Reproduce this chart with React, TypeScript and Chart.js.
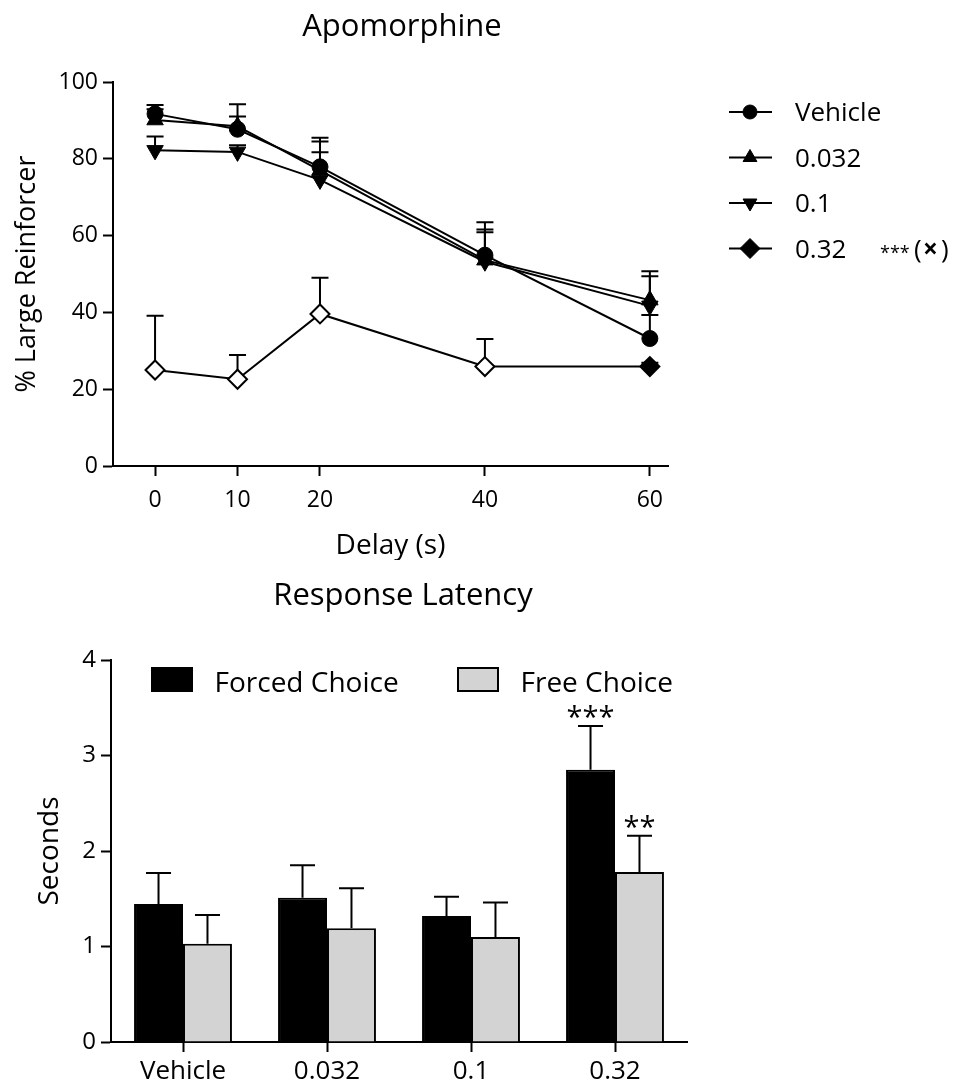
import React, { useEffect, useRef } from "react";
import { Chart, registerables } from "chart.js";

Chart.register(...registerables);

const FONT = "'Open Sans', sans-serif";

// ---------- Top chart data (Apomorphine) ----------
const delays = [0, 10, 20, 40, 60];
const topTicksY = [0, 20, 40, 60, 80, 100];
const seriesNames = ["Vehicle", "0.032", "0.1", "0.32"];
const vehicleMean = [91.7, 87.7, 77.9, 54.9, 33.2];
const vehicleSem = [2.3, 3.3, 7.6, 8.6, 6.1];
const dose0032Mean = [90.1, 88.5, 77.0, 53.6, 43.2];
const dose0032Sem = [2.8, 5.7, 7.5, 8.0, 7.5];
const dose01Mean = [82.2, 81.8, 74.5, 53.2, 41.7];
const dose01Sem = [3.6, 1.7, 7.2, 7.7, 7.7];
const dose032Mean = [25.0, 22.6, 39.6, 25.9, 25.9];
const dose032Sem = [14.1, 6.3, 9.4, 7.2, 1.0];
const dose032Filled = [false, false, false, false, true];

// ---------- Bottom chart data (Response Latency) ----------
const latencyGroups = ["Vehicle", "0.032", "0.1", "0.32"];
const latencyTicksY = [0, 1, 2, 3, 4];
const forcedMean = [1.445, 1.51, 1.32, 2.85];
const forcedSem = [0.325, 0.34, 0.2, 0.46];
const freeMean = [1.03, 1.19, 1.1, 1.78];
const freeSem = [0.3, 0.42, 0.36, 0.38];
const forcedStars = ["", "", "", "***"];
const freeStars = ["", "", "", "**"];
const latencyLegend = ["Forced Choice", "Free Choice"];

function drawMarker(ctx: CanvasRenderingContext2D, style: string, x: number, y: number, r: number, fill: string, lw: number) {
  ctx.save();
  ctx.beginPath();
  if (style === "circle") {
    ctx.arc(x, y, r, 0, Math.PI * 2);
  } else if (style === "triUp" || style === "triDown") {
    const s = style === "triUp" ? 1 : -1;
    const w = r * Math.sqrt(3) / 2;
    ctx.moveTo(x, y - s * r);
    ctx.lineTo(x + w, y + s * r / 2);
    ctx.lineTo(x - w, y + s * r / 2);
    ctx.closePath();
  } else {
    ctx.moveTo(x, y - r);
    ctx.lineTo(x + r, y);
    ctx.lineTo(x, y + r);
    ctx.lineTo(x - r, y);
    ctx.closePath();
  }
  ctx.fillStyle = fill;
  ctx.fill();
  ctx.lineWidth = lw;
  ctx.strokeStyle = "#000";
  ctx.stroke();
  ctx.restore();
}

const axisGrid = {
  display: true,
  drawOnChartArea: false,
  drawTicks: true,
  tickLength: 10,
  tickWidth: 2,
  tickColor: "#000",
  color: "#000",
};
const axisBorder = { display: true, color: "#000", width: 2 };

export default function App() {
  const topRef = useRef<HTMLCanvasElement | null>(null);
  const botRef = useRef<HTMLCanvasElement | null>(null);

  useEffect(() => {
    Chart.defaults.font.family = FONT;
    Chart.defaults.color = "#000";

    const topErrorPlugin = {
      id: "topErrors",
      beforeDatasetsDraw(chart: any) {
        const ctx = chart.ctx;
        const xs = chart.scales.x;
        const ys = chart.scales.y;
        ctx.save();
        ctx.strokeStyle = "#000";
        ctx.lineWidth = 2;
        chart.data.datasets.forEach((ds: any) => {
          ds.data.forEach((p: any, i: number) => {
            const x = xs.getPixelForValue(p.x);
            const y0 = ys.getPixelForValue(p.y);
            const y1 = ys.getPixelForValue(p.y + ds.sem[i]);
            ctx.beginPath();
            ctx.moveTo(x, y0);
            ctx.lineTo(x, y1);
            ctx.moveTo(x - 8.5, y1);
            ctx.lineTo(x + 8.5, y1);
            ctx.stroke();
          });
        });
        ctx.restore();
      },
    };

    const topDecorPlugin = {
      id: "topDecor",
      afterDraw(chart: any) {
        const ctx = chart.ctx;
        ctx.save();
        ctx.fillStyle = "#000";
        ctx.textAlign = "center";
        ctx.textBaseline = "alphabetic";
        ctx.font = `31px ${FONT}`;
        ctx.fillText("Apomorphine", 402, 36);
        // legend
        const styles = ["circle", "triUp", "triDown", "diamond"];
        const radii = [7, 8, 8, 10];
        ctx.textAlign = "left";
        seriesNames.forEach((name, i) => {
          const base = 121 + i * 45.5;
          const my = base - 9;
          ctx.strokeStyle = "#000";
          ctx.lineWidth = 2;
          ctx.beginPath();
          ctx.moveTo(729, my);
          ctx.lineTo(772, my);
          ctx.stroke();
          drawMarker(ctx, styles[i], 750, my, radii[i], "#000", 1);
          ctx.fillStyle = "#000";
          ctx.font = `26px ${FONT}`;
          ctx.fillText(name, 795, base);
          if (i === 3) {
            ctx.font = `18px ${FONT}`;
            ctx.fillText("***", 880, base + 1);
            ctx.font = `26px ${FONT}`;
            ctx.fillText("(", 914, base);
            ctx.font = `bold 26px ${FONT}`;
            ctx.fillText("×", 923, base);
            ctx.font = `26px ${FONT}`;
            ctx.fillText(")", 941, base);
          }
        });
        ctx.restore();
      },
    };

    const mk = (label: string, mean: number[], sem: number[], extra: any) => ({
      label,
      data: delays.map((x, i) => ({ x, y: mean[i] })),
      sem,
      showLine: true,
      borderColor: "#000",
      borderWidth: 2,
      pointBorderColor: "#000",
      pointBackgroundColor: "#000",
      pointBorderWidth: 1,
      clip: false,
      ...extra,
    });

    const topChart = new Chart(topRef.current as HTMLCanvasElement, {
      type: "scatter",
      data: {
        datasets: [
          mk(seriesNames[0], vehicleMean, vehicleSem, { pointStyle: "circle", pointRadius: 8, pointHoverRadius: 8 }),
          mk(seriesNames[1], dose0032Mean, dose0032Sem, { pointStyle: "triangle", pointRadius: 9.5, pointHoverRadius: 9.5 }),
          mk(seriesNames[2], dose01Mean, dose01Sem, { pointStyle: "triangle", pointRotation: 180, pointRadius: 9.5, pointHoverRadius: 9.5 }),
          mk(seriesNames[3], dose032Mean, dose032Sem, {
            pointStyle: "rectRot",
            pointRadius: 9.5,
            pointHoverRadius: 9.5,
            pointBorderWidth: 2,
            pointBackgroundColor: dose032Filled.map((f) => (f ? "#000" : "#fff")),
          }),
        ] as any,
      },
      options: {
        responsive: false,
        animation: false,
        devicePixelRatio: 1,
        events: [],
        layout: { padding: { top: 82, right: 292, bottom: 0, left: 0 } },
        plugins: { legend: { display: false }, tooltip: { enabled: false }, title: { display: false } },
        scales: {
          x: {
            type: "linear",
            min: -5.1,
            max: 62.2,
            afterBuildTicks: (s: any) => {
              s.ticks = delays.map((v) => ({ value: v }));
            },
            afterFit: (s: any) => {
              s.height = 94;
            },
            grid: axisGrid,
            border: axisBorder,
            ticks: { color: "#000", font: { family: FONT, size: 23 }, padding: 11, maxRotation: 0, autoSkip: false },
            title: {
              display: true,
              text: "Delay (s)",
              color: "#000",
              font: { family: FONT, size: 28, lineHeight: 1 },
              padding: { top: 0, bottom: 0 },
            },
          },
          y: {
            type: "linear",
            min: 0,
            max: 100,
            afterBuildTicks: (s: any) => {
              s.ticks = topTicksY.map((v) => ({ value: v }));
            },
            afterFit: (s: any) => {
              s.width = 113;
            },
            grid: axisGrid,
            border: axisBorder,
            ticks: { color: "#000", font: { family: FONT, size: 23 }, padding: 5 },
            title: {
              display: true,
              text: "% Large Reinforcer",
              color: "#000",
              font: { family: FONT, size: 27, lineHeight: 1 },
              padding: { top: 13.5, bottom: 0 },
            },
          },
        },
      } as any,
      plugins: [topErrorPlugin, topDecorPlugin],
    });

    const botErrorPlugin = {
      id: "botErrors",
      afterDatasetsDraw(chart: any) {
        const ctx = chart.ctx;
        const ys = chart.scales.y;
        ctx.save();
        chart.data.datasets.forEach((ds: any, di: number) => {
          const meta = chart.getDatasetMeta(di);
          meta.data.forEach((el: any, i: number) => {
            const x = el.x;
            const yBar = ys.getPixelForValue(ds.data[i]);
            const yTop = ys.getPixelForValue(ds.data[i] + ds.sem[i]);
            ctx.strokeStyle = "#000";
            ctx.lineWidth = 2;
            ctx.beginPath();
            ctx.moveTo(x, yBar);
            ctx.lineTo(x, yTop);
            ctx.moveTo(x - 12.5, yTop);
            ctx.lineTo(x + 12.5, yTop);
            ctx.stroke();
            const star = ds.stars[i];
            if (star) {
              ctx.fillStyle = "#000";
              ctx.font = `29px ${FONT}`;
              ctx.textAlign = "center";
              ctx.textBaseline = "alphabetic";
              ctx.fillText(star, x, yTop + 1);
            }
          });
        });
        ctx.restore();
      },
      afterDraw(chart: any) {
        const ctx = chart.ctx;
        ctx.save();
        ctx.fillStyle = "#000";
        ctx.textAlign = "center";
        ctx.textBaseline = "alphabetic";
        ctx.font = `31px ${FONT}`;
        ctx.fillText("Response Latency", 403, 45);
        // legend
        const boxX = [151, 457];
        const textX = [214.5, 520.5];
        chart.data.datasets.forEach((ds: any, i: number) => {
          ctx.fillStyle = ds.backgroundColor;
          ctx.fillRect(boxX[i], 107, 42, 25);
          ctx.strokeStyle = "#000";
          ctx.lineWidth = 2;
          ctx.strokeRect(boxX[i] + 1, 108, 40, 23);
          ctx.fillStyle = "#000";
          ctx.textAlign = "left";
          ctx.font = `28px ${FONT}`;
          ctx.fillText(latencyLegend[i], textX[i], 131.5);
        });
        ctx.restore();
      },
    };

    const botChart = new Chart(botRef.current as HTMLCanvasElement, {
      type: "bar",
      data: {
        labels: latencyGroups,
        datasets: [
          {
            label: latencyLegend[0],
            data: forcedMean,
            sem: forcedSem,
            stars: forcedStars,
            backgroundColor: "#000",
            borderColor: "#000",
            borderWidth: 2,
            categoryPercentage: 0.68,
            barPercentage: 1,
          },
          {
            label: latencyLegend[1],
            data: freeMean,
            sem: freeSem,
            stars: freeStars,
            backgroundColor: "#d3d3d3",
            borderColor: "#000",
            borderWidth: 2,
            categoryPercentage: 0.68,
            barPercentage: 1,
          },
        ] as any,
      },
      options: {
        responsive: false,
        animation: false,
        devicePixelRatio: 1,
        events: [],
        layout: { padding: { top: 100, right: 273, bottom: 0, left: 0 } },
        plugins: { legend: { display: false }, tooltip: { enabled: false }, title: { display: false } },
        scales: {
          x: {
            afterFit: (s: any) => {
              s.height = 46;
            },
            grid: { ...axisGrid, offset: false },
            border: axisBorder,
            ticks: { color: "#000", font: { family: FONT, size: 26 }, padding: 4, maxRotation: 0, autoSkip: false },
          },
          y: {
            min: 0,
            max: 4,
            afterBuildTicks: (s: any) => {
              s.ticks = latencyTicksY.map((v) => ({ value: v }));
            },
            afterFit: (s: any) => {
              s.width = 111;
            },
            grid: axisGrid,
            border: axisBorder,
            ticks: { color: "#000", font: { family: FONT, size: 24 }, padding: 5 },
            title: {
              display: true,
              text: "Seconds",
              color: "#000",
              font: { family: FONT, size: 28, lineHeight: 1 },
              padding: { top: 36, bottom: 0 },
            },
          },
        },
      } as any,
      plugins: [botErrorPlugin],
    });

    return () => {
      topChart.destroy();
      botChart.destroy();
    };
  }, []);

  return (
    <div>
      <canvas
        ref={topRef}
        width={960}
        height={560}
        style={{ position: "absolute", left: 0, top: 0, width: 960, height: 560, display: "block" }}
      />
      <canvas
        ref={botRef}
        width={960}
        height={528}
        style={{ position: "absolute", left: 0, top: 560, width: 960, height: 528, display: "block" }}
      />
    </div>
  );
}
